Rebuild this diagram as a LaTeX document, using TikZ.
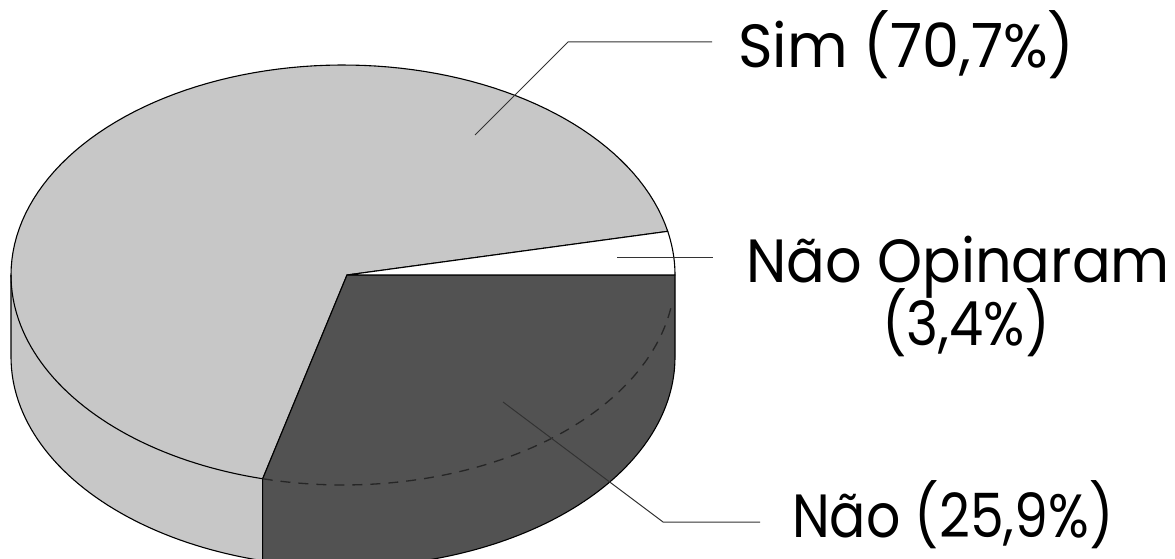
\documentclass[tikz,border=0pt]{standalone}
\usepackage{fontspec}
\setmainfont{Poppins}
\begin{document}
\begin{tikzpicture}[x=1pt,y=-1pt,
  edge/.style={draw=black,line width=1.1pt,line join=round},
  simfill/.style={fill=black!22},
  naofill/.style={fill=black!68},
  leader/.style={draw=black!80,line width=1pt},
  lbl/.style={font=\fontsize{61}{70}\selectfont,inner sep=0pt}]
\useasboundingbox (0,0) rectangle (1175,559);
% geometry: top ellipse centre (343,275), rx 332, ry 210, depth 82
\coordinate (apex) at (347,275);
% Sim region: top sector + left side
\path[simfill,edge] (apex)
  -- plot[domain=12:180,samples=80] ({343+332*cos(\x)},{275-210*sin(\x)})
  -- plot[domain=180:256,samples=50] ({343+332*cos(\x)},{357-210*sin(\x)})
  -- ({343+332*cos(256)},{275-210*sin(256)}) -- cycle;
% seam on the light side
\draw[edge] plot[domain=180:256,samples=50] ({343+332*cos(\x)},{275-210*sin(\x)});
% Nao region: top sector + right side
\path[naofill,edge] (apex) -- (675,275) -- (675,357)
  -- plot[domain=360:256,samples=80] ({343+332*cos(\x)},{357-210*sin(\x)})
  -- ({343+332*cos(256)},{275-210*sin(256)}) -- cycle;
% faint hidden seam in dark slice
\draw[black!85,line width=1.3pt,dash pattern=on 10pt off 8pt] plot[domain=256:352,samples=60] ({343+332*cos(\x)},{275-210*sin(\x)});
% Nao Opinaram slice
\path[fill=white,edge] (apex)
  -- plot[domain=12:0,samples=20] ({343+332*cos(\x)},{275-210*sin(\x)}) -- cycle;
% labels
\node[lbl,anchor=base west] (sim) at (738,68) {\scalebox{0.965}[1]{Sim (70,7\%)}};
\node[lbl,anchor=base west] (nop) at (746,282) {\scalebox{0.94}[1]{Não Opinaram}};
\node[lbl,anchor=base] (nopp) at (966,345) {\scalebox{0.89}[1]{(3,4\%)}};
\node[lbl,anchor=base west] (nao) at (792,537) {\scalebox{0.88}[1]{Não (25,9\%)}};
% leaders
\coordinate (s0) at (475,135);
\coordinate (s1) at (568,42);
\coordinate (s2) at (712,42);
\draw[leader] (s0) -- (s1) -- (s2);
\coordinate (o0) at (617,257);
\coordinate (o1) at (713,257);
\draw[leader] (o0) -- (o1);
\coordinate (n0) at (503,402);
\coordinate (n1) at (663,522);
\coordinate (n2) at (760,522);
\draw[leader] (n0) -- (n1) -- (n2);
\end{tikzpicture}
\end{document}
